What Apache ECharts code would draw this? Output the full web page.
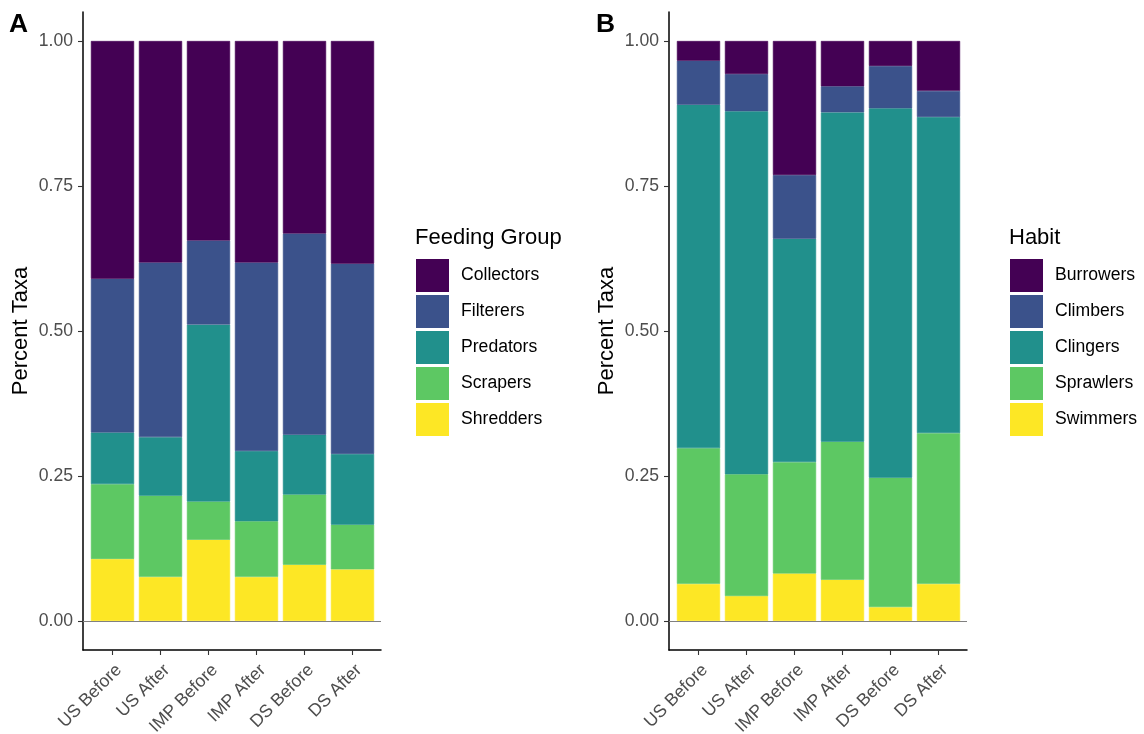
<!DOCTYPE html>
<html><head><meta charset="utf-8">
<script src="https://cdn.jsdelivr.net/npm/echarts@6/dist/echarts.min.js"></script>
<style>html,body{margin:0;padding:0;background:#fff}#c{width:1144px;height:734px}</style>
</head><body><div id="c"></div>
<script>
const categories = ['US Before','US After','IMP Before','IMP After','DS Before','DS After'];
const yTickValues = [0, 0.25, 0.5, 0.75, 1];

// Panel A: Feeding Group (legend order top -> bottom)
const feedingGroups = ['Collectors','Filterers','Predators','Scrapers','Shredders'];
const collectors = [0.410, 0.382, 0.344, 0.382, 0.332, 0.384];
const filterers  = [0.265, 0.301, 0.145, 0.325, 0.347, 0.328];
const predators  = [0.089, 0.101, 0.305, 0.121, 0.103, 0.122];
const scrapers   = [0.129, 0.140, 0.066, 0.096, 0.121, 0.077];
const shredders  = [0.107, 0.076, 0.140, 0.076, 0.097, 0.089];

// Panel B: Habit
const habits = ['Burrowers','Climbers','Clingers','Sprawlers','Swimmers'];
const burrowers = [0.034, 0.057, 0.231, 0.078, 0.043, 0.086];
const climbers  = [0.076, 0.064, 0.110, 0.045, 0.073, 0.045];
const clingers  = [0.592, 0.626, 0.385, 0.568, 0.637, 0.545];
const sprawlers = [0.234, 0.210, 0.192, 0.238, 0.223, 0.260];
const swimmers  = [0.064, 0.043, 0.082, 0.071, 0.024, 0.064];

const viridis = ['#440154','#3B528B','#21908C','#5DC863','#FDE725'];
const FONT = 'Liberation Sans, Arial, sans-serif';

const chart = echarts.init(document.getElementById('c'), null, {renderer:'canvas'});

// frame grids (0,1) carry the axis lines, y ticks/labels and the zero line;
// data grids (2,3) carry the category axis and the stacked bars.
function frameX(g){
  return {type:'value', gridIndex:g, min:0, max:1,
    axisLine:{show:true, onZero:false, lineStyle:{color:'#000', width:1.5}},
    axisTick:{show:false}, axisLabel:{show:false}, splitLine:{show:false}};
}
function frameY(g){
  return {type:'value', gridIndex:g, min:-0.05, max:1.05,
    name:'Percent Taxa', nameLocation:'middle', nameRotate:90, nameGap:51,
    nameTextStyle:{fontSize:22, color:'#000', fontFamily:FONT},
    axisLine:{show:true, onZero:false, lineStyle:{color:'#000', width:1.5}},
    axisTick:{show:true, customValues:yTickValues, length:5, lineStyle:{color:'#333', width:1.1}},
    axisLabel:{show:true, customValues:yTickValues, formatter:v=>v.toFixed(2),
      fontSize:17.6, color:'#4D4D4D', fontFamily:FONT, margin:10},
    splitLine:{show:false}};
}
function dataX(g){
  return {type:'category', gridIndex:g, data:categories, boundaryGap:true,
    axisLine:{show:false, onZero:false},
    axisTick:{show:true, alignWithLabel:true, inside:false, length:5, lineStyle:{color:'#333', width:1.1}},
    axisLabel:{show:true, interval:0, rotate:45, fontSize:17.6, color:'#4D4D4D', fontFamily:FONT,
      margin:11, verticalAlign:'top'},
    splitLine:{show:false}};
}
function dataY(g){
  return {type:'value', gridIndex:g, min:-0.05, max:1.05, show:false,
    axisLine:{onZero:false}, splitLine:{show:false}};
}
function zeroLine(g){
  return {type:'line', xAxisIndex:g, yAxisIndex:g, data:[], silent:true,
    markLine:{silent:true, symbol:['none','none'], label:{show:false}, animation:false,
      lineStyle:{color:'#808080', width:1.1, type:'solid'}, data:[{yAxis:0}]}};
}
function barSeries(name, vals, color, g, stackName){
  return {type:'bar', name, stack:stackName, xAxisIndex:g, yAxisIndex:g,
    data:vals, barWidth:'90%', itemStyle:{color, borderColor:color, borderWidth:0.6},
    emphasis:{disabled:true}};
}
function legendFor(names, left){
  return {data:names, orient:'vertical', left, top:259, itemWidth:33, itemHeight:33, itemGap:3,
    icon:'rect', selectedMode:false, padding:0,
    itemStyle:{borderWidth:0},
    textStyle:{fontSize:17.6, color:'#000', fontFamily:FONT, padding:[3,0,0,7]}};
}
function gridAt(left, width){
  return {left, top:12, width, height:638, containLabel:false, outerBoundsMode:'none'};
}

const option = {
  animation:false,
  textStyle:{fontFamily:FONT},
  grid:[gridAt(83, 298), gridAt(669, 298), gridAt(88.5, 288), gridAt(674.5, 288)],
  xAxis:[frameX(0), frameX(1), dataX(2), dataX(3)],
  yAxis:[frameY(0), frameY(1), dataY(2), dataY(3)],
  title:[
    {text:'A', left:9, top:12, textStyle:{fontSize:26.4, fontWeight:'bold', color:'#000', fontFamily:FONT}, padding:0},
    {text:'B', left:596, top:12, textStyle:{fontSize:26.4, fontWeight:'bold', color:'#000', fontFamily:FONT}, padding:0},
    {text:'Feeding Group', left:415, top:227, textStyle:{fontSize:22, fontWeight:'normal', color:'#000', fontFamily:FONT}, padding:0},
    {text:'Habit', left:1009, top:227, textStyle:{fontSize:22, fontWeight:'normal', color:'#000', fontFamily:FONT}, padding:0}
  ],
  legend:[legendFor(feedingGroups, 416), legendFor(habits, 1010)],
  series:[
    zeroLine(0), zeroLine(1),
    barSeries('Shredders', shredders, viridis[4], 2, 'a'),
    barSeries('Scrapers', scrapers, viridis[3], 2, 'a'),
    barSeries('Predators', predators, viridis[2], 2, 'a'),
    barSeries('Filterers', filterers, viridis[1], 2, 'a'),
    barSeries('Collectors', collectors, viridis[0], 2, 'a'),
    barSeries('Swimmers', swimmers, viridis[4], 3, 'b'),
    barSeries('Sprawlers', sprawlers, viridis[3], 3, 'b'),
    barSeries('Clingers', clingers, viridis[2], 3, 'b'),
    barSeries('Climbers', climbers, viridis[1], 3, 'b'),
    barSeries('Burrowers', burrowers, viridis[0], 3, 'b')
  ]
};
chart.setOption(option);
</script>
</body></html>
